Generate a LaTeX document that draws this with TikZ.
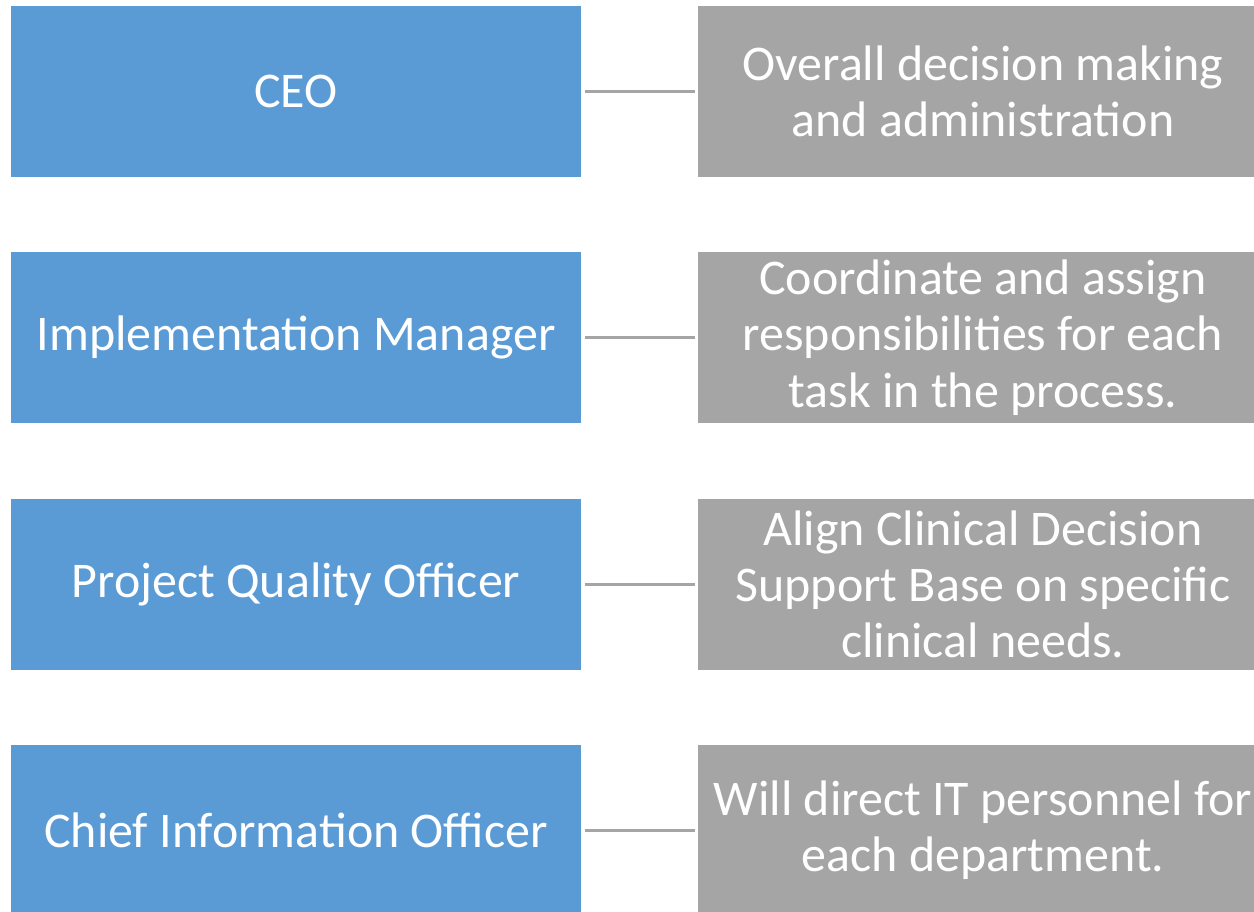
\documentclass[tikz,border=0pt]{standalone}
\usepackage{fontspec}
\setmainfont{Carlito}
\definecolor{roleblue}{HTML}{5B9BD5}
\definecolor{dutygray}{HTML}{A5A5A5}
\tikzset{
  role/.style={fill=roleblue, draw=none, minimum width=5.7cm, minimum height=1.71cm, text=white, font=\fontsize{14.2}{16}\selectfont, align=center, inner sep=0pt},
  duty/.style={fill=dutygray, draw=none, minimum width=5.7cm, minimum height=1.71cm, text=white, font=\fontsize{14.2}{16}\selectfont, align=center, inner sep=0pt},
  link/.style={draw=dutygray, line width=0.6pt}
}
\begin{document}
\begin{tikzpicture}[x=0.01cm,y=0.01cm]
        \useasboundingbox (0,0) rectangle (1254,911);
        \clip (0,0) rectangle (1254,911);

        \node[role] (ceo) at (296,819.5) {CEO};
        \node[role] (impl) at (296,573.5) {Implementation Manager};
        \node[role] (pqo) at (296,326.5) {Project Quality Officer};
        \node[role] (cio) at (296,80.5) {Chief Information Officer};

        \node[duty] (d1) at (983,819.5) {Overall decision making\\and administration};
        \node[duty] (d2) at (983,573.5) {Coordinate and assign\\responsibilities for each\\task in the process.};
        \node[duty] (d3) at (983,326.5) {Align Clinical Decision\\Support Base on specific\\clinical needs.};
        \node[duty] (d4) at (983,80.5) {Will direct IT personnel for\\each department.};

        \path[link] ([xshift=0.03cm]ceo.east) -- ([xshift=-0.02cm]d1.west);
        \path[link] ([xshift=0.03cm]impl.east) -- ([xshift=-0.02cm]d2.west);
        \path[link] ([xshift=0.03cm]pqo.east) -- ([xshift=-0.02cm]d3.west);
        \path[link] ([xshift=0.03cm]cio.east) -- ([xshift=-0.02cm]d4.west);
    \end{tikzpicture}
\end{document}
